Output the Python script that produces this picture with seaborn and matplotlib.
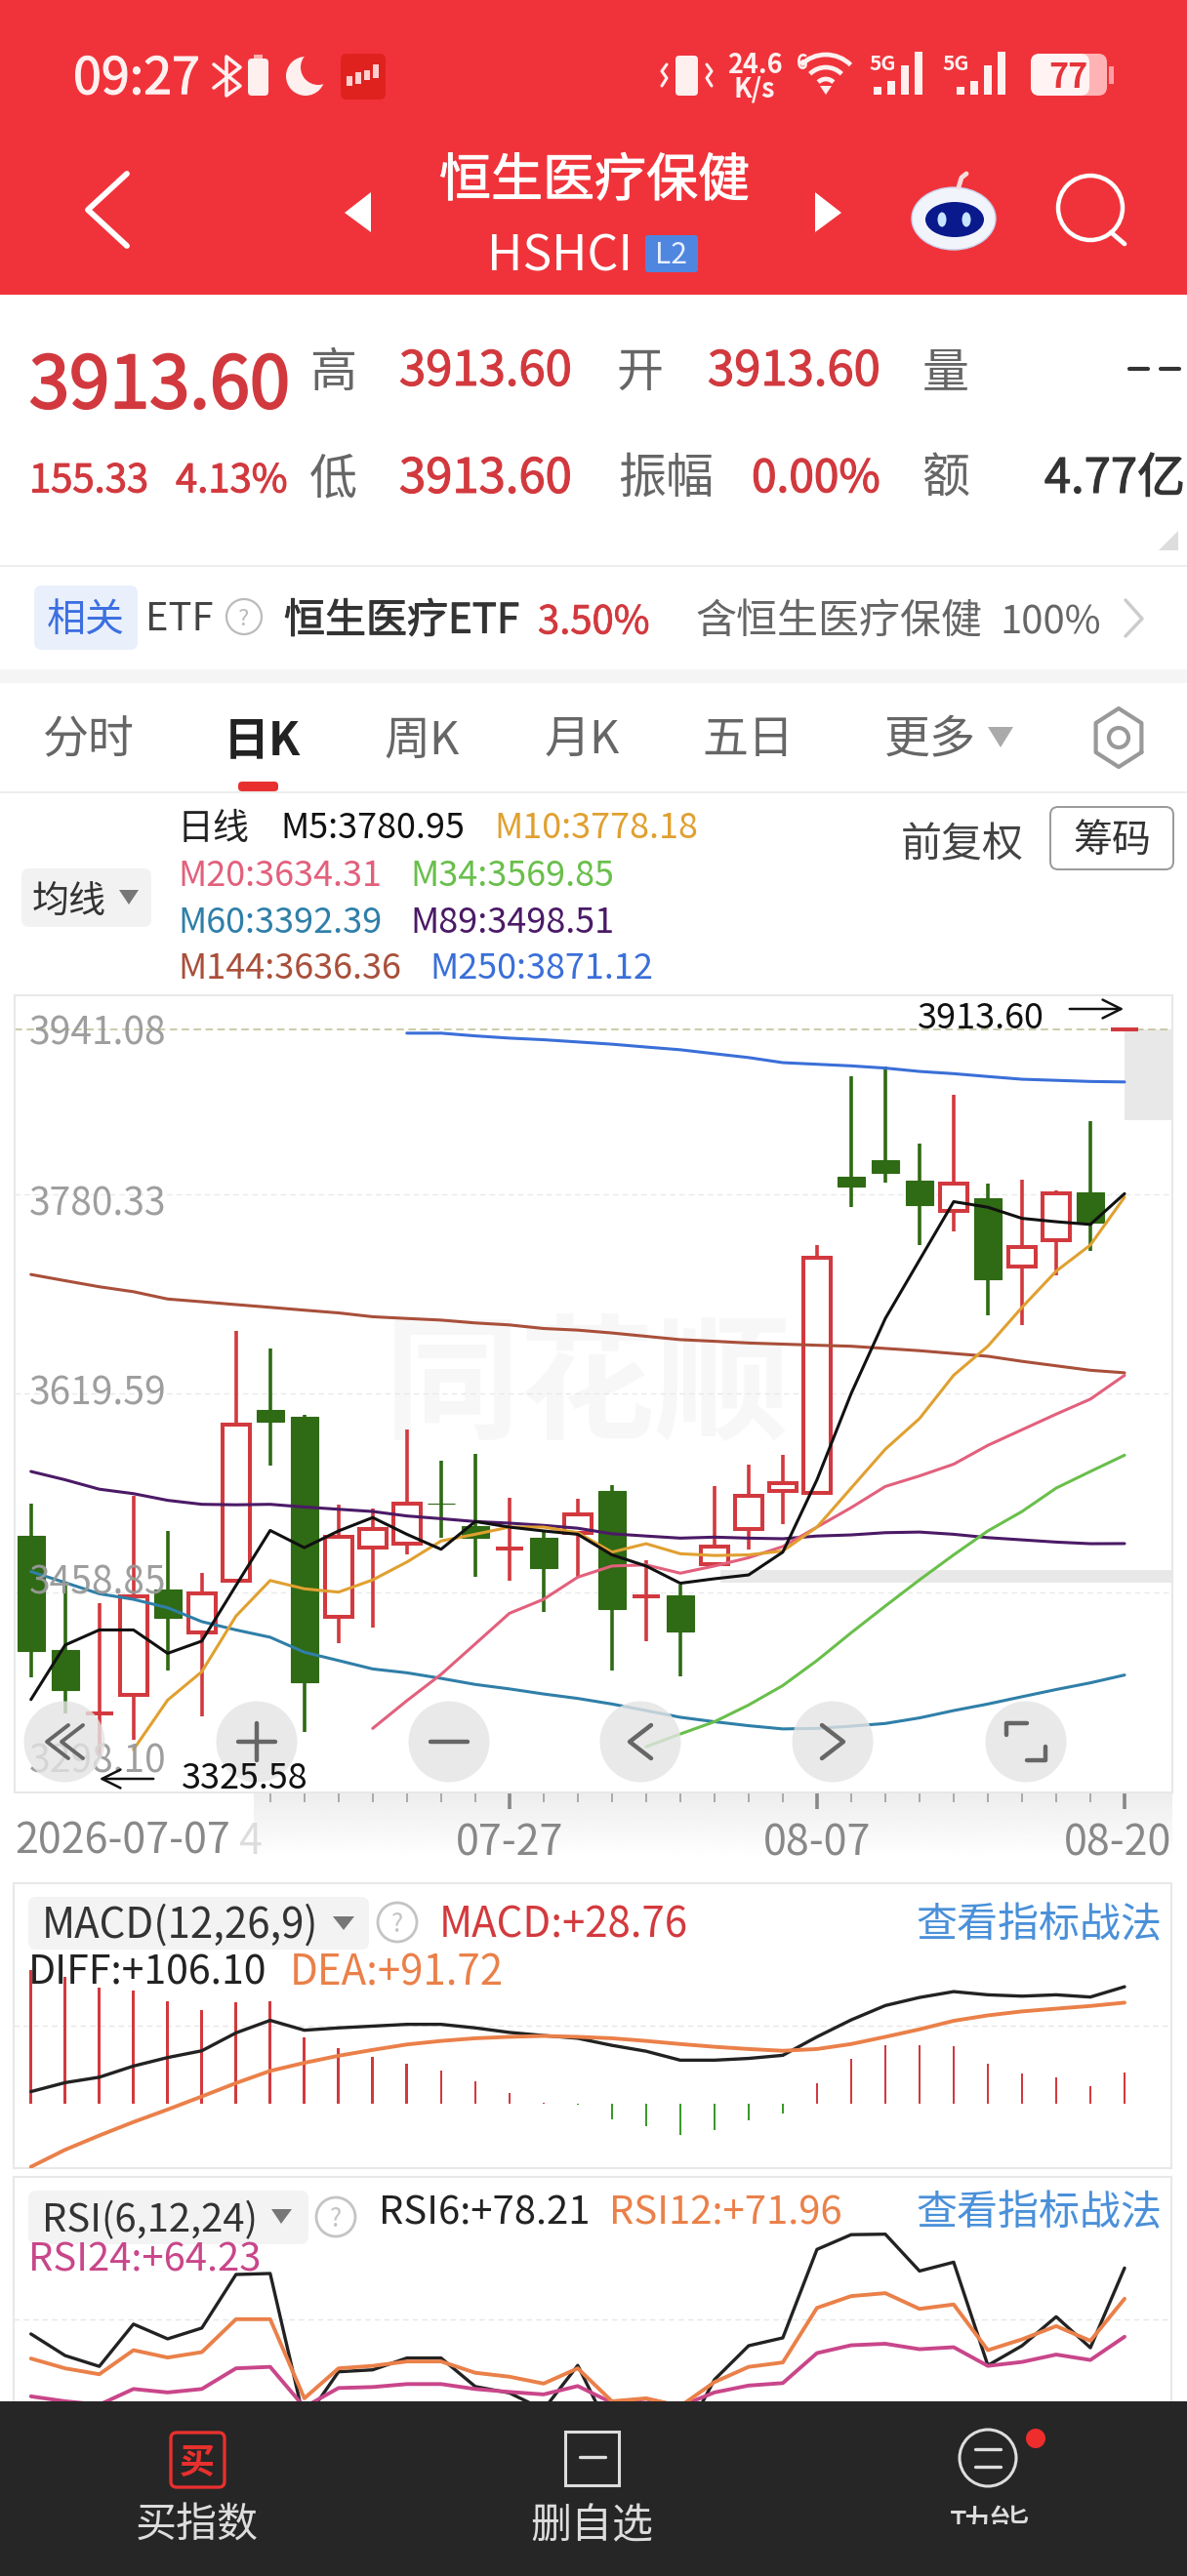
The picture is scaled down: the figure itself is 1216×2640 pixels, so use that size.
import numpy as np
import seaborn as sns
import matplotlib.pyplot as plt
import matplotlib.patheffects as pe
from matplotlib.patches import Rectangle, FancyBboxPatch, Circle, Ellipse, Polygon, Arc
from matplotlib.transforms import ScaledTranslation

sns.set_theme(style="white")
plt.rcParams['font.family'] = ['Noto Sans CJK SC', 'DejaVu Sans']

W, H = 1216, 2640

# daily candles, 2026-07-07 .. 2026-08-20
opens = [3505.1, 3412.2, 3361.4, 3376.7, 3461.1, 3426.5, 3468.3, 3606.1, 3600.7, 3439.5, 3495.2,
         3498.4, 3531.1, 3512.3, 3494.3, 3503.3, 3506.9, 3541.0, 3455.7, 3456.6, 3481.8, 3510.5,
         3541.0, 3539.7, 3794.2, 3808.2, 3791.1, 3767.3, 3777.6, 3722.0, 3743.1, 3781.7, 3913.6]
closes = [3411.7, 3380.3, 3361.4, 3455.7, 3438.6, 3458.0, 3594.9, 3597.1, 3386.6, 3504.2, 3510.5,
          3530.7, 3530.7, 3502.9, 3494.3, 3479.1, 3522.2, 3445.4, 3455.7, 3427.9, 3496.1, 3537.4,
          3546.9, 3729.6, 3787.1, 3797.4, 3771.4, 3788.9, 3712.1, 3737.7, 3781.3, 3757.9, 3913.6]
highs = [3531.1, 3464.7, 3450.3, 3537.4, 3508.7, 3474.6, 3670.3, 3656.0, 3602.5, 3529.8, 3526.6,
         3590.4, 3565.3, 3571.1, 3535.6, 3509.6, 3534.3, 3545.5, 3484.9, 3465.6, 3545.1, 3562.1,
         3570.2, 3739.5, 3876.0, 3883.2, 3821.6, 3860.7, 3788.9, 3792.5, 3783.5, 3839.6, 3913.6]
lows = [3390.6, 3361.4, 3325.58, 3339.9, 3396.0, 3359.2, 3468.3, 3561.2, 3346.6, 3418.4, 3431.0,
        3489.4, 3502.9, 3471.4, 3468.3, 3443.1, 3471.4, 3396.0, 3419.8, 3391.5, 3481.8, 3493.9,
        3514.1, 3539.7, 3770.0, 3790.2, 3739.5, 3750.3, 3682.9, 3674.9, 3714.8, 3735.0, 3913.6]

m5 = [3372.6, 3416.6, 3428.8, 3428.8, 3409.9, 3419.8, 3464.7, 3509.1, 3495.2, 3508.7, 3519.5,
      3506.0, 3493.9, 3516.3, 3511.8, 3508.7, 3506.0, 3489.4, 3480.4, 3466.5, 3470.1, 3473.2,
      3491.6, 3550.0, 3619.6, 3680.2, 3727.4, 3774.5, 3770.0, 3761.0, 3758.3, 3756.1, 3780.95]
m10 = [3332.2, 3372.2, 3395.1, 3440.0, 3468.7, 3462.0, 3459.3, 3469.2, 3483.6, 3500.6, 3506.0,
       3511.8, 3511.8, 3507.3, 3491.6, 3498.4, 3490.3, 3488.9, 3489.4, 3492.5, 3511.8, 3543.3,
       3574.7, 3599.4, 3634.4, 3657.8, 3689.2, 3718.4, 3739.5, 3778.18]
m20 = [3349.3, 3371.7, 3392.9, 3417.5, 3442.2, 3453.5, 3471.4, 3480.4, 3481.3, 3474.6, 3480.4,
       3487.1, 3496.1, 3511.8, 3527.5, 3544.6, 3553.1, 3562.6, 3577.8, 3590.4, 3603.0, 3615.1, 3634.31]
m34 = [3334.5, 3344.8, 3354.7, 3368.2, 3383.9, 3404.1, 3426.5, 3448.1, 3469.2, 3489.4, 3508.7,
       3524.4, 3543.3, 3556.7, 3569.85]
m60 = [3475.9, 3467.0, 3458.0, 3453.5, 3446.7, 3435.5, 3428.8, 3422.9, 3410.8, 3404.1, 3397.3,
       3394.2, 3389.7, 3384.8, 3381.2, 3377.1, 3373.5, 3369.0, 3363.7, 3358.3, 3354.7, 3351.5,
       3348.9, 3349.3, 3351.1, 3353.3, 3357.8, 3363.7, 3369.0, 3374.9, 3380.7, 3386.1, 3392.39]
m89 = [3556.7, 3550.0, 3542.4, 3538.8, 3533.4, 3530.2, 3529.8, 3530.2, 3528.0, 3526.2, 3524.4,
       3520.8, 3518.6, 3516.3, 3515.0, 3513.2, 3510.9, 3506.4, 3504.6, 3502.9, 3503.7, 3502.9,
       3502.4, 3504.6, 3505.5, 3507.3, 3507.8, 3506.0, 3503.3, 3501.5, 3499.7, 3498.4, 3498.51]
m144 = [3715.7, 3710.7, 3705.8, 3701.8, 3695.9, 3693.7, 3691.4, 3689.2, 3686.9, 3684.7, 3681.6,
        3680.2, 3678.9, 3676.6, 3675.0, 3672.1, 3670.8, 3668.5, 3665.8, 3663.1, 3661.8, 3660.4,
        3659.5, 3658.6, 3657.8, 3656.0, 3654.2, 3651.9, 3649.7, 3645.6, 3642.0, 3638.4, 3636.36]
m250 = [3910.5, 3910.5, 3908.3, 3906.5, 3905.2, 3903.4, 3901.6, 3899.3, 3897.1, 3893.9, 3890.8,
        3886.7, 3885.4, 3884.1, 3882.3, 3879.6, 3877.8, 3875.5, 3873.3, 3872.4, 3871.5, 3871.12]

macd_hist = [121.5, 115.4, 105.3, 102.5, 93.2, 85.1, 92.3, 93.2, 59.9, 50.6, 42.5, 36.9, 30.4, 20.3,
             10.1, 0.8, -0.4, -13.4, -20.3, -27.5, -23.1, -14.6, -8.9, 19.0, 40.9, 53.5, 53.5, 52.2,
             36.9, 27.5, 24.3, 15.8, 28.76]
diff = [11.3, 19.4, 24.3, 34.4, 42.1, 48.2, 64.4, 75.7, 66.8, 68.9, 70.5, 72.1, 72.1, 68.9, 64.8,
        62.0, 59.5, 53.1, 47.8, 39.7, 39.7, 41.3, 44.1, 60.8, 76.1, 89.1, 96.4, 101.7, 98.8, 97.6,
        98.8, 96.8, 106.10]
dea = [-56.7, -41.3, -28.4, -16.2, -4.9, 6.9, 19.0, 30.0, 37.3, 43.7, 49.0, 53.9, 57.1, 59.5, 60.8,
       61.6, 60.8, 59.5, 57.1, 54.3, 51.8, 49.8, 48.2, 49.8, 54.3, 60.8, 67.6, 75.3, 80.2, 83.8,
       86.3, 88.7, 91.72]

rsi6 = [64.8, 60.4, 58.2, 66.8, 63.8, 66.0, 76.9, 77.1, 47.1, 57.1, 57.5, 59.9, 59.9, 54.1, 52.8,
        49.4, 58.4, 44.3, 43.3, 42.4, 55.5, 62.4, 64.0, 82.0, 85.0, 85.1, 77.6, 79.4, 58.4, 62.4,
        68.3, 62.0, 78.21]
rsi12 = [59.8, 57.8, 56.6, 61.5, 60.0, 61.1, 67.8, 67.8, 51.7, 57.8, 58.3, 59.2, 59.2, 56.9, 56.1,
         54.7, 57.8, 51.1, 51.7, 50.1, 55.0, 58.1, 59.0, 70.1, 72.5, 73.1, 69.9, 70.8, 61.5, 63.7,
         66.4, 63.4, 71.96]
rsi24 = [52.1, 51.1, 50.4, 53.6, 52.9, 53.6, 57.8, 58.1, 49.9, 53.8, 54.0, 54.6, 54.6, 53.6, 53.0,
         52.5, 54.2, 50.8, 51.6, 50.1, 52.9, 54.3, 54.8, 60.9, 62.5, 62.8, 61.7, 62.1, 58.3, 59.1,
         60.6, 59.5, 64.23]

price_ticks = [3941.08, 3780.33, 3619.59, 3458.85, 3298.10]
date_ticks = ["07-27", "08-07", "08-20"]
date_tick_pos = [14, 23, 32]
last_price = 3913.60

RED = "#d2393e"
GREEN = "#2f6a14"
days = np.arange(len(opens))


def add_axes_px(left, top, right, bottom, zorder):
    a = fig.add_axes([left / W, 1 - bottom / H, (right - left) / W, (bottom - top) / H])
    a.set_zorder(zorder)
    a.patch.set_alpha(0)
    return a


def day_limits(left, right):
    return (left - 31.7) / 35.01, (right - 31.7) / 35.01


def frame(a, color="#e8e8e8"):
    for s in a.spines.values():
        s.set_visible(True)
        s.set_color(color)
        s.set_linewidth(1.5)
    a.set_yticks([])


def draw(a, start, vals, color, lw=2.2, z=4):
    sns.lineplot(x=days[start:], y=vals, ax=a, color=color, linewidth=lw, zorder=z,
                 errorbar=None, legend=False, sort=False)


def txt(a, x, y, s, em, color="#333333", ha="left", weight="normal", z=6, alpha=1, thick=0):
    # the CJK font sits high in its box, nudge it down
    t = a.text(x, y + 0.085 * em, s, fontsize=em * 0.72, color=color, ha=ha, va="center",
               fontweight=weight, zorder=z, alpha=alpha)
    if thick:
        t.set_path_effects([pe.withStroke(linewidth=thick, foreground=color)])


def box(a, x0, y0, x1, y1, color, round_px=0, edge="none", lw=0, z=1):
    if round_px:
        a.add_patch(FancyBboxPatch((x0 + round_px, y0 + round_px), x1 - x0 - 2 * round_px,
                                   y1 - y0 - 2 * round_px, boxstyle=f"round,pad={round_px}",
                                   fc=color, ec=edge, lw=lw, zorder=z))
    else:
        a.add_patch(Rectangle((x0, y0), x1 - x0, y1 - y0, fc=color, ec=edge, lw=lw, zorder=z))


def poly(a, pts, color, lw=3, z=6):
    p = np.array(pts)
    a.plot(p[:, 0], p[:, 1], color=color, lw=lw, zorder=z, solid_capstyle="round",
           solid_joinstyle="round")


fig = plt.figure(figsize=(W / 100, H / 100), dpi=100, facecolor="white")

# background layer
bg = add_axes_px(0, 0, W, H, 0)
bg.set_xlim(0, W)
bg.set_ylim(H, 0)
bg.axis("off")

box(bg, 0, 0, W, 302, "#f0333a")
box(bg, 0, 686, W, 700, "#f5f5f5")
bg.plot([0, W], [580, 580], color="#eeeeee", lw=1.5)
bg.plot([0, W], [812, 812], color="#eeeeee", lw=1.5)

# status bar
txt(bg, 75, 77, "09:27", 52, "#fff0f0", thick=0.8)
poly(bg, [(219, 66), (246, 88), (232, 98), (232, 58), (246, 69), (219, 90)], "#fff0f0", 2.6)
box(bg, 254, 60, 275, 98, "#fff0f0", 4)
box(bg, 260, 56, 269, 60, "#ffb0b0")
bg.add_patch(Circle((313, 78), 20, fc="#fff0f0", ec="none", zorder=2))
bg.add_patch(Circle((326, 69), 18, fc="#f0333a", ec="none", zorder=3))
box(bg, 349, 55, 395, 102, "#e0221f", 6)
for cx, y0, y1 in [(358, 78, 88), (367, 74, 86), (376, 72, 82), (385, 66, 80)]:
    box(bg, cx - 3, y0, cx + 3, y1, "#ffd0d0", z=3)
box(bg, 692, 57, 715, 98, "#fff0f0", 4)
poly(bg, [(683, 66), (678, 73), (683, 80), (678, 88)], "#fff0f0", 2.2)
poly(bg, [(724, 66), (729, 73), (724, 80), (729, 88)], "#fff0f0", 2.2)
txt(bg, 773, 65, "24.6", 27, "#fff0f0", ha="center", weight="bold")
txt(bg, 773, 89, "K/s", 27, "#fff0f0", ha="center", weight="bold")
txt(bg, 822, 63, "6", 20, "#fff0f0", ha="center", weight="bold")
for d in [72, 46, 22]:
    bg.add_patch(Arc((846, 92), d, d, theta1=225, theta2=315, color="#fff0f0", lw=3.4, zorder=3))
bg.add_patch(Polygon([(840, 88), (852, 88), (846, 97)], fc="#fff0f0", ec="none", zorder=3))
for x_off in (0, 75):
    txt(bg, 904 + x_off, 64, "5G", 21, "#fff0f0", ha="center", weight="bold")
for x0 in (895, 980):
    for i, h_bar in enumerate([8, 14, 30, 44]):
        box(bg, x0 + i * 14, 97 - h_bar, x0 + i * 14 + 8, 97, "#fff0f0", z=2)
box(bg, 1056, 55, 1134, 98, "#ffb3b5", 9)
box(bg, 1056, 55, 1116, 98, "#fff3f3", 9, z=2)
box(bg, 1136, 68, 1141, 86, "#ff9ea2")
txt(bg, 1094, 77, "77", 34, "#e5343a", ha="center", weight="bold", z=3)

# title row
poly(bg, [(130, 178), (90, 215), (130, 252)], "white", 4.2)
bg.add_patch(Polygon([(353, 218), (380, 197), (380, 238)], fc="white", ec="none", zorder=3))
bg.add_patch(Polygon([(862, 218), (835, 197), (835, 238)], fc="white", ec="none", zorder=3))
txt(bg, 609, 181, "恒生医疗保健", 53, "white", ha="center", thick=0.7)
txt(bg, 573, 259, "HSHCI", 50, "white", ha="center")
box(bg, 661, 241, 715, 279, "#4f86e0", 3, z=2)
txt(bg, 688, 259, "L2", 30, "#e8f0ff", ha="center")
bg.add_patch(Ellipse((977, 224), 86, 64, fc="#f2f4fb", ec="#c8d2ee", lw=1, zorder=2))
bg.add_patch(Ellipse((978, 225), 60, 36, fc="#0a1a8c", ec="none", zorder=3))
bg.add_patch(Ellipse((965, 225), 9, 15, fc="#c8e4ff", ec="none", zorder=4))
bg.add_patch(Ellipse((990, 225), 9, 15, fc="#c8e4ff", ec="none", zorder=4))
poly(bg, [(982, 192), (985, 182), (990, 178)], "#f6dcdc", 3.5)
bg.add_patch(Circle((1117, 213), 33, fc="none", ec="white", lw=3.2, zorder=3))
poly(bg, [(1138, 238), (1152, 250)], "white", 3.4)

# quote block
txt(bg, 30, 391, "3913.60", 74, RED, thick=1.6)
for x, s in [(341, "高"), (655, "开"), (969, "量")]:
    txt(bg, x, 378, s, 48, "#666666", ha="center")
for x, s in [(341, "低"), (682, "振幅"), (969, "额")]:
    txt(bg, x, 487, s, 49, "#666666", ha="center")
txt(bg, 409, 377, "3913.60", 49, RED, thick=0.8)
txt(bg, 725, 377, "3913.60", 49, RED, thick=0.8)
poly(bg, [(1157, 378), (1176, 378)], "#333333", 3)
poly(bg, [(1189, 378), (1208, 378)], "#333333", 3)
txt(bg, 30, 490, "155.33", 40, RED, thick=0.7)
txt(bg, 180, 490, "4.13%", 40, RED, thick=0.7)
txt(bg, 409, 487, "3913.60", 49, RED, thick=0.8)
txt(bg, 770, 487, "0.00%", 46, RED, thick=0.8)
txt(bg, 1214, 487, "4.77亿", 49, "#333333", ha="right", thick=0.8)
bg.add_patch(Polygon([(1207, 544), (1207, 564), (1187, 564)], fc="#dddddd", ec="none", zorder=2))

# etf row
box(bg, 35, 600, 141, 666, "#e9f0fc", 8)
txt(bg, 88, 632, "相关", 40, "#3d6fe0", ha="center")
txt(bg, 149, 632, "ETF", 40, "#444444")
bg.add_patch(Circle((250, 632), 18, fc="none", ec="#bbbbbb", lw=1.6, zorder=2))
txt(bg, 250, 632, "?", 24, "#bbbbbb", ha="center")
txt(bg, 291, 633, "恒生医疗ETF", 42, "#333333", thick=0.7)
txt(bg, 551, 635, "3.50%", 40, RED, thick=0.5)
txt(bg, 712, 633, "含恒生医疗保健", 42, "#666666")
txt(bg, 1024, 635, "100%", 40, "#666666")
poly(bg, [(1153, 615), (1170, 634), (1153, 652)], "#cccccc", 2.5)

# period tabs
for x, s in [(91, "分时"), (432, "周K"), (596, "月K"), (766, "五日"), (953, "更多")]:
    txt(bg, x, 755, s, 47, "#666666", ha="center")
txt(bg, 268, 755, "日K", 47, "#222222", ha="center", weight="bold")
bg.add_patch(Polygon([(1012, 745), (1038, 745), (1025, 766)], fc="#aaaaaa", ec="none", zorder=2))
hex_a = np.radians(np.arange(30, 391, 60))
bg.plot(1146 + 27 * np.cos(hex_a), 756 + 30 * np.sin(hex_a), color="#999999", lw=3)
bg.add_patch(Circle((1146, 756), 10, fc="none", ec="#999999", lw=3, zorder=2))
box(bg, 244, 801, 285, 811, "#e8302e", 4)

# moving average legend
txt(bg, 182, 846, "日线", 37, "#222222")
legend_rows = [
    (287, 846, "M5:3780.95", "#111111"), (506, 846, "M10:3778.18", "#e0a030"),
    (182, 895, "M20:3634.31", "#e2607c"), (420, 895, "M34:3569.85", "#69bf4b"),
    (182, 943, "M60:3392.39", "#2f7fa8"), (420, 943, "M89:3498.51", "#4b1a66"),
    (182, 990, "M144:3636.36", "#a94f3a"), (440, 990, "M250:3871.12", "#3a6fd8"),
]
for x, y, s, c in legend_rows:
    txt(bg, x, y, s, 36, c)
box(bg, 22, 890, 155, 950, "#f2f2f2", 8)
txt(bg, 33, 921, "均线", 38, "#333333")
bg.add_patch(Polygon([(122, 912), (142, 912), (132, 927)], fc="#777777", ec="none", zorder=2))
txt(bg, 923, 863, "前复权", 42, "#444444")
box(bg, 1076, 827, 1202, 891, "white", 8, edge="#999999", lw=1.4)
txt(bg, 1139, 859, "筹码", 40, "#333333", ha="center")

# x axis band
grad = np.linspace(0.93, 1, 64).reshape(-1, 1)
bg.imshow(grad, extent=(260, 1201, 1905, 1838), cmap="gray", vmin=0, vmax=1, aspect="auto", zorder=1)
bg.set_xlim(0, W)
bg.set_ylim(H, 0)

# price panel
ax = add_axes_px(15, 1020, 1201, 1837, 2)
ax.set_xlim(*day_limits(15, 1201))
ax.set_ylim(3298.10 - 0.5, 3941.08)
frame(ax)
ax.text(16.3, 3623, "同花顺", fontsize=100, color="#f7f7f7", ha="center", va="center", fontweight="bold", zorder=0)
ax.axhspan(3466.9, 3477.3, xmin=0.61, color="#e8e8e8", zorder=0.5, lw=0)
ax.axhspan(3840.5, 3913.6, xmin=0.9587, color="#e8e8e8", zorder=0.5, lw=0)
for p in price_ticks[1:4]:
    ax.axhline(p, color="#e9e9e9", lw=1, ls=(0, (4, 3)), zorder=0.6)
ax.axhline(last_price, color="#bdbd90", lw=1.1, ls=(0, (5, 3)), zorder=0.7)

for i in days:
    up = closes[i] >= opens[i]
    col = RED if up else GREEN
    ax.vlines(i, lows[i], highs[i], color=col, lw=2.6, zorder=1)
    if up:
        ax.bar(i, max(closes[i] - opens[i], 0.01), bottom=opens[i], width=0.8, facecolor="white",
               edgecolor=col, linewidth=2.9, zorder=2)
    else:
        ax.bar(i, opens[i] - closes[i], bottom=closes[i], width=0.8, facecolor=col,
               edgecolor=col, linewidth=0.8, zorder=2)

draw(ax, 0, m144, "#a94f3a")
draw(ax, 0, m89, "#4b1a66")
draw(ax, 0, m60, "#2f7fa8")
draw(ax, 11, m250, "#3a6fd8")
draw(ax, 18, m34, "#69bf4b")
draw(ax, 10, m20, "#e2607c")
draw(ax, 3, m10, "#e0a030")
draw(ax, 0, m5, "#111111")

ax.set_xticks(date_tick_pos)
ax.set_xticks([d for d in days if d >= 7 and d not in date_tick_pos], minor=True)
ax.set_xticklabels(date_ticks)
ax.tick_params(axis="x", which="major", length=12, width=2.6, color="#888888", labelsize=43 * 0.72,
               labelcolor="#888888", pad=10, bottom=True)
ax.tick_params(axis="x", which="minor", length=7, width=1.4, color="#aaaaaa", bottom=True)
last_label = ax.get_xticklabels()[2]
last_label.set_ha("right")
last_label.set_transform(last_label.get_transform() + ScaledTranslation(0.48, 0, fig.dpi_scale_trans))
ax.set_xlabel("")
ax.set_ylabel("")

# macd panel
ax_macd = add_axes_px(14, 1930, 1200, 2222, 2)
ax_macd.set_xlim(*day_limits(14, 1200))
ax_macd.set_ylim(-57.9, 199.7)
frame(ax_macd)
ax_macd.set_xticks([])
ax_macd.axhline(70.9, color="#e6e6e6", lw=1, ls=(0, (4, 3)), zorder=0.5)
hist_cols = ["#d2393e" if v > 0 else "#3a9a2a" for v in macd_hist]
ax_macd.bar(days, macd_hist, width=0.075, color=hist_cols, linewidth=0, zorder=1)
draw(ax_macd, 0, diff, "#222222", 2.4, 3)
draw(ax_macd, 0, dea, "#ea8049", 2.8, 3)
ax_macd.set_xlabel("")
ax_macd.set_ylabel("")

# rsi panel, runs on underneath the bottom bar
ax_rsi = add_axes_px(14, 2231, 1200, 2470, 2)
ax_rsi.set_xlim(*day_limits(14, 1200))
ax_rsi.set_ylim(49.3, 96.75)
frame(ax_rsi)
ax_rsi.set_xticks([])
ax_rsi.axhline(67.8, color="#e6e6e6", lw=1, ls=(0, (4, 3)), zorder=0.5)
draw(ax_rsi, 0, rsi6, "#222222", 2.4, 3)
draw(ax_rsi, 0, rsi24, "#c9468a", 2.8, 3)
draw(ax_rsi, 0, rsi12, "#ea8049", 2.8, 3)
ax_rsi.set_xlabel("")
ax_rsi.set_ylabel("")

# top layer
top = add_axes_px(0, 0, W, H, 5)
top.set_xlim(0, W)
top.set_ylim(H, 0)
top.axis("off")

for y, p in zip([1056, 1231, 1425, 1619, 1802], price_ticks):
    txt(top, 30, y, f"{p:.2f}", 39, "#999999", z=1, alpha=0.95)

for cx in [66, 263, 460, 656, 853, 1051]:
    top.add_patch(Circle((cx, 1785), 41.5, fc="#e4e4e4", ec="none", alpha=0.8, zorder=2))
poly(top, [(70, 1768), (48, 1785), (70, 1802)], "#666666", 2.8, 3)
poly(top, [(85, 1768), (63, 1785), (85, 1802)], "#666666", 2.8, 3)
poly(top, [(244, 1785), (282, 1785)], "#666666", 3.2, 3)
poly(top, [(263, 1766), (263, 1804)], "#666666", 3.2, 3)
poly(top, [(441, 1785), (479, 1785)], "#666666", 3.2, 3)
poly(top, [(667, 1768), (645, 1785), (667, 1802)], "#666666", 3.2, 3)
poly(top, [(842, 1768), (864, 1785), (842, 1802)], "#666666", 3.2, 3)
poly(top, [(1031, 1778), (1031, 1766), (1052, 1766)], "#666666", 3.2, 3)
poly(top, [(1071, 1790), (1071, 1804), (1052, 1804)], "#666666", 3.2, 3)

txt(top, 940, 1041, "3913.60", 36, "#111111", z=4)
top.annotate("", xy=(1154, 1034), xytext=(1093, 1034),
             arrowprops=dict(arrowstyle="->", color="#111111", lw=1.8, mutation_scale=34), zorder=4)
txt(top, 186, 1820, "3325.58", 36, "#111111", z=4)
top.annotate("", xy=(99, 1823), xytext=(160, 1823),
             arrowprops=dict(arrowstyle="->", color="#111111", lw=1.8, mutation_scale=34), zorder=4)

txt(top, 15, 1884, "2026-07-07", 43, "#888888", z=4)
txt(top, 244, 1884, "4", 43, "#dddddd", z=4)

# macd header
box(top, 29, 1944, 378, 1998, "#f3f3f3", 8, z=1)
txt(top, 43, 1970, "MACD(12,26,9)", 42, "#333333", z=3)
top.add_patch(Polygon([(341, 1964), (363, 1964), (352, 1978)], fc="#777777", ec="none", zorder=3))
top.add_patch(Circle((407, 1970), 20, fc="white", ec="#c4c4c4", lw=2, zorder=2))
txt(top, 407, 1970, "?", 26, "#c4c4c4", ha="center", z=3)
txt(top, 450, 1970, "MACD:+28.76", 42, "#d33a3d", z=3)
txt(top, 938, 1970, "查看指标战法", 42, "#4a90d9", z=3)
txt(top, 29, 2019, "DIFF:+106.10", 41, "#222222", z=3)
txt(top, 297, 2019, "DEA:+91.72", 42, "#ea8049", z=3)

# rsi header
box(top, 29, 2245, 316, 2300, "#f3f3f3", 8, z=1)
txt(top, 43, 2273, "RSI(6,12,24)", 40, "#333333", z=3)
top.add_patch(Polygon([(278, 2264), (299, 2264), (288, 2279)], fc="#777777", ec="none", zorder=3))
top.add_patch(Circle((344, 2272), 20, fc="white", ec="#c4c4c4", lw=2, zorder=2))
txt(top, 344, 2272, "?", 26, "#c4c4c4", ha="center", z=3)
txt(top, 388, 2265, "RSI6:+78.21", 40, "#222222", z=3)
txt(top, 624, 2265, "RSI12:+71.96", 40, "#ea8049", z=3)
txt(top, 938, 2265, "查看指标战法", 42, "#4a90d9", z=3)
txt(top, 29, 2313, "RSI24:+64.23", 40, "#c9468a", z=3)

# bottom bar
box(top, 0, 2461, W, H, "#262626", z=5)
box(top, 175, 2493, 230, 2549, "none", 6, edge="#e8302e", lw=2.4, z=6)
txt(top, 202, 2521, "买", 36, "#e8302e", ha="center", weight="bold", z=7)
txt(top, 202, 2585, "买指数", 42, "#dddddd", ha="center", z=7)
box(top, 579, 2492, 634, 2547, "none", edge="#dddddd", lw=2.2, z=6)
poly(top, [(594, 2518), (620, 2518)], "#dddddd", 2.4, 7)
txt(top, 606, 2586, "删自选", 42, "#dddddd", ha="center", z=7)
top.add_patch(Circle((1012, 2519), 29, fc="none", ec="#dddddd", lw=2.2, zorder=6))
poly(top, [(999, 2510), (1025, 2510)], "#dddddd", 2.4, 7)
poly(top, [(999, 2528), (1025, 2528)], "#dddddd", 2.4, 7)
top.add_patch(Circle((1061, 2499), 10, fc="#ee2d2d", ec="none", zorder=7))
txt(top, 1013, 2587, "功能", 42, "#dddddd", ha="center", z=7)
box(top, 940, 2587, W, H, "#262626", z=8)

fig.savefig("out.png", dpi=100)
